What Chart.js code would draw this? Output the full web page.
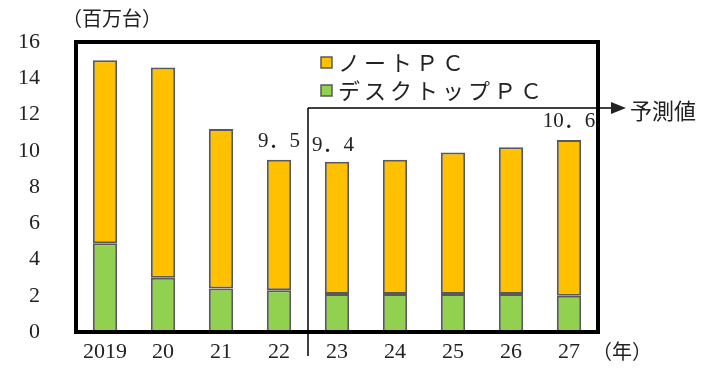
<!DOCTYPE html>
<html>
<head>
<meta charset="utf-8">
<script src="https://cdn.jsdelivr.net/npm/chart.js@4/dist/chart.umd.min.js"></script>
<style>
  body { margin: 0; background: #fff; }
</style>
</head>
<body>
<canvas id="c" width="724" height="370"></canvas>
<script>
// years and values (million units)
var years = ['2019', '20', '21', '22', '23', '24', '25', '26', '27'];
var desktop = [4.9, 3.0, 2.4, 2.3, 2.1, 2.1, 2.1, 2.1, 2.0];
var notebook = [10.1, 11.6, 8.8, 7.2, 7.3, 7.4, 7.8, 8.1, 8.6];
var totalLabels = { 3: '9．5', 4: '9．4', 8: '10．6' };

var serif = '"Liberation Serif", "DejaVu Serif", "Noto Sans CJK JP", serif';
var jp = '"Noto Sans CJK JP", sans-serif';

// frame, legend, labels and forecast arrow
var extras = {
  id: 'extras',
  afterDatasetsDraw: function (chart) {
    var ctx = chart.ctx;
    var a = chart.chartArea;
    var x = chart.scales.x;
    var y = chart.scales.y;
    ctx.save();

    // thick frame
    ctx.strokeStyle = '#000';
    ctx.lineWidth = 4;
    ctx.strokeRect(a.left, a.top, a.right - a.left, a.bottom - a.top);

    // unit labels
    ctx.fillStyle = '#222';
    ctx.font = '20px ' + jp;
    ctx.textBaseline = 'middle';
    ctx.textAlign = 'left';
    ctx.fillText('（百万台）', 62, 18);
    ctx.fillText('（年）', 592, 351);

    // forecast divider
    var mid = (x.getPixelForValue(3) + x.getPixelForValue(4)) / 2;
    var ay = 108;
    ctx.lineWidth = 1.5;
    ctx.beginPath();
    ctx.moveTo(mid, ay);
    ctx.lineTo(mid, 356);
    ctx.moveTo(mid, ay);
    ctx.lineTo(612, ay);
    ctx.stroke();
    ctx.beginPath();
    ctx.moveTo(626, ay);
    ctx.lineTo(611, ay - 6);
    ctx.lineTo(611, ay + 6);
    ctx.closePath();
    ctx.fill();
    ctx.font = '22px ' + jp;
    ctx.fillText('予測値', 630, ay + 3);

    // legend
    var items = [['ノート', '#FFC000', 63], ['デスクトップ', '#92D050', 91]];
    items.forEach(function (it) {
      ctx.fillStyle = it[1];
      ctx.fillRect(321, it[2] - 6, 11, 11);
      ctx.strokeStyle = '#595959';
      ctx.lineWidth = 1.5;
      ctx.strokeRect(321, it[2] - 6, 11, 11);
      ctx.fillStyle = '#222';
      ctx.font = '22px ' + jp;
      ctx.letterSpacing = '4px';
      ctx.fillText(it[0] + 'ＰＣ', 338, it[2]);
    });
    ctx.letterSpacing = '0px';

    // total labels
    ctx.font = '21px ' + serif;
    ctx.textBaseline = 'bottom';
    Object.keys(totalLabels).forEach(function (k) {
      var i = +k;
      var tot = desktop[i] + notebook[i];
      var px = x.getPixelForValue(i);
      var py = y.getPixelForValue(tot) - 8;
      ctx.textAlign = 'center';
      if (i === 4) { ctx.textAlign = 'left'; px = mid + 4; py = y.getPixelForValue(tot) - 6; }
      ctx.fillText(totalLabels[k], px, py);
    });
    ctx.restore();
  }
};

new Chart(document.getElementById('c'), {
  type: 'bar',
  data: {
    labels: years,
    datasets: [
      { label: 'デスクトップＰＣ', data: desktop, backgroundColor: '#92D050', borderColor: '#595959', borderWidth: 2, borderSkipped: false },
      { label: 'ノートＰＣ', data: notebook, backgroundColor: '#FFC000', borderColor: '#595959', borderWidth: 2, borderSkipped: false }
    ]
  },
  options: {
    responsive: false,
    animation: false,
    layout: { padding: { top: 42, right: 126, left: 0, bottom: 0 } },
    datasets: { bar: { categoryPercentage: 1, barPercentage: 0.42 } },
    plugins: { legend: { display: false }, tooltip: { enabled: false } },
    scales: {
      x: {
        stacked: true,
        grid: { display: false, drawTicks: false },
        border: { display: false },
        ticks: { color: '#222', font: { family: serif, size: 22 }, padding: 7 },
        afterFit: function (s) { s.height = 38; s.paddingLeft = 0; s.paddingRight = 0; }
      },
      y: {
        stacked: true,
        min: 0, max: 16,
        grid: { display: false, drawTicks: false },
        border: { display: false },
        ticks: { stepSize: 2, color: '#222', font: { family: serif, size: 22 }, padding: 36 },
        afterFit: function (s) { s.width = 76; s.paddingTop = 0; s.paddingBottom = 0; }
      }
    }
  },
  plugins: [extras]
});
</script>
</body>
</html>
